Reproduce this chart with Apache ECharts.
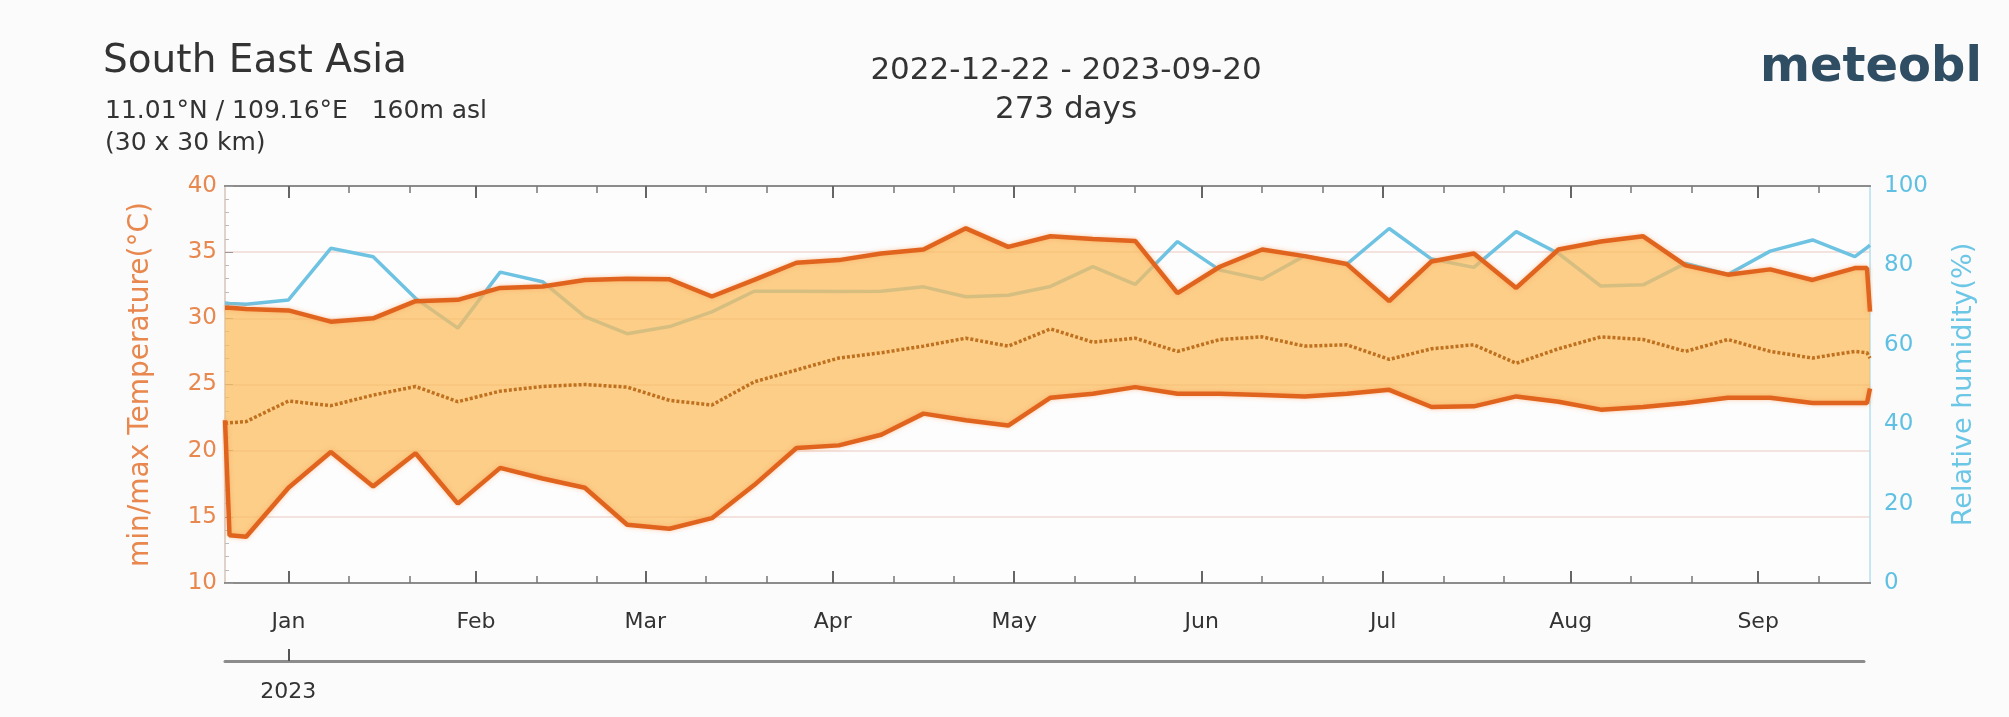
<!DOCTYPE html>
<html>
<head>
<meta charset="utf-8">
<script src="https://cdn.jsdelivr.net/npm/echarts@6/dist/echarts.min.js"></script>
<style>
html,body{margin:0;padding:0;background:#ffffff;}
#chart{width:2009px;height:717px;}
</style>
</head>
<body>
<div id="chart"></div>
<script>
// ---- data (weekly values; first/last two are edge points) ----
const dates = ['2022-12-21T12:00','2022-12-22T06:00','2022-12-25','2023-01-01','2023-01-08','2023-01-15','2023-01-22','2023-01-29',
  '2023-02-05','2023-02-12','2023-02-19','2023-02-26','2023-03-05','2023-03-12','2023-03-19','2023-03-26',
  '2023-04-02','2023-04-09','2023-04-16','2023-04-23','2023-04-30','2023-05-07','2023-05-14','2023-05-21','2023-05-28',
  '2023-06-04','2023-06-11','2023-06-18','2023-06-25','2023-07-02','2023-07-09','2023-07-16','2023-07-23','2023-07-30',
  '2023-08-06','2023-08-13','2023-08-20','2023-08-27','2023-09-03','2023-09-10','2023-09-17','2023-09-19T00:00','2023-09-19T12:00'];
const maxTemp = [30.8,30.8,30.7,30.6,29.75,30.0,31.3,31.4,32.3,32.4,32.9,33.0,32.95,31.65,32.9,34.2,34.4,34.9,35.2,36.8,35.4,36.2,36.0,35.85,31.9,33.9,35.2,34.7,34.1,31.3,34.3,34.9,32.3,35.2,35.8,36.2,34.0,33.3,33.7,32.9,33.8,33.8,30.5];
const meanTemp = [22.1,22.1,22.2,23.75,23.4,24.2,24.85,23.7,24.5,24.85,25.0,24.8,23.8,23.45,25.2,26.1,27.0,27.4,27.9,28.5,27.9,29.2,28.2,28.5,27.5,28.4,28.6,27.9,28.0,26.9,27.7,28.0,26.6,27.7,28.6,28.4,27.5,28.4,27.5,27.0,27.5,27.4,27.0];
const minTemp = [22.3,13.6,13.5,17.2,19.9,17.3,19.8,16.0,18.7,17.9,17.2,14.4,14.1,14.9,17.4,20.2,20.4,21.2,22.8,22.3,21.9,24.0,24.3,24.8,24.3,24.3,24.2,24.1,24.3,24.6,23.3,23.35,24.1,23.7,23.1,23.3,23.6,24.0,24.0,23.6,23.6,23.6,24.7];
const humidity = [70.5,70.4,70.2,71.3,84.3,82.2,71.7,64.2,78.3,75.9,67.1,62.8,64.6,68.3,73.5,73.5,73.4,73.5,74.6,72.1,72.5,74.7,79.7,75.2,86.0,78.8,76.5,82.4,80.3,89.3,81.6,79.5,88.5,83.0,74.8,75.1,80.5,77.7,83.6,86.4,82.2,84.5,85.1];

const axisStart = '2022-12-21T12:00';
const axisEnd = '2023-09-19T12:00';
const monthStarts = ['2023-01-01','2023-02-01','2023-03-01','2023-04-01','2023-05-01','2023-06-01','2023-07-01','2023-08-01','2023-09-01'];
const monthLabels = ['Jan','Feb','Mar','Apr','May','Jun','Jul','Aug','Sep'];
const minorTickDays = ['2023-01-11','2023-01-21','2023-02-11','2023-02-21','2023-03-11','2023-03-21','2023-04-11','2023-04-21',
  '2023-05-11','2023-05-21','2023-06-11','2023-06-21','2023-07-11','2023-07-21','2023-08-11','2023-08-21','2023-09-11'];
const yearTick = '2023-01-01';
const yearLabel = '2023';

// ---- build ----
function ts(s){ const p = s.split('T'); const d = p[0].split('-').map(Number); let h=0,m=0; if(p[1]){const t=p[1].split(':').map(Number);h=t[0];m=t[1];} return Date.UTC(d[0], d[1]-1, d[2], h, m); }
const X = dates.map(ts);
const xMin = ts(axisStart), xMax = ts(axisEnd);
const monthTs = monthStarts.map(ts);
const minorTs = minorTickDays.map(ts);
const yearTs = ts(yearTick);

const font = 'DejaVu Sans';
const chart = echarts.init(document.getElementById('chart'), null, {renderer:'canvas'});

function tAxis(extra){
  return Object.assign({type:'value', gridIndex:0, min:xMin, max:xMax, scale:true,
    axisLine:{show:true, onZero:false, lineStyle:{color:'#8c8c8c', width:2}},
    splitLine:{show:false}, axisLabel:{show:false}, axisTick:{show:false}}, extra);
}

const option = {
  backgroundColor:'#fbfbfb',
  animation:false,
  grid:[
    {left:225, right:139, top:186, height:397, show:true, backgroundColor:'#fdfdfd', borderWidth:0},
    {left:225, right:145, top:660, height:1, show:false}
  ],
  xAxis:[
    {type:'time', gridIndex:0, min:xMin, max:xMax, position:'bottom',
      axisLine:{show:true, onZero:false, lineStyle:{color:'#8c8c8c', width:2}},
      axisTick:{show:false}, axisLabel:{show:false}, splitLine:{show:false}},
    tAxis({position:'bottom',
      axisTick:{show:true, inside:true, length:12, lineStyle:{color:'#666', width:2}, customValues:monthTs},
      axisLabel:{show:true, margin:28, color:'#333', fontFamily:font, fontSize:22,
        customValues:monthTs, formatter:function(v){ const i = monthTs.indexOf(v); return i>=0?monthLabels[i]:''; }}}),
    tAxis({position:'bottom',
      axisTick:{show:true, inside:true, length:7, lineStyle:{color:'#777', width:1.5}, customValues:minorTs}}),
    tAxis({position:'top',
      axisTick:{show:true, inside:true, length:12, lineStyle:{color:'#666', width:2}, customValues:monthTs}}),
    tAxis({position:'top',
      axisTick:{show:true, inside:true, length:7, lineStyle:{color:'#777', width:1.5}, customValues:minorTs}}),
    {type:'value', gridIndex:1, min:xMin, max:xMax, scale:true, position:'bottom',
      axisLine:{show:true, onZero:false, lineStyle:{color:'#8c8c8c', width:3}},
      axisTick:{show:true, inside:true, length:12, lineStyle:{color:'#555', width:2}, customValues:[yearTs]},
      axisLabel:{show:true, margin:20, color:'#333', fontFamily:font, fontSize:22, customValues:[yearTs], formatter:function(){return yearLabel;}},
      splitLine:{show:false}}
  ],
  yAxis:[
    {type:'value', gridIndex:0, min:10, max:40, interval:5, position:'left',
      name:'min/max Temperature(°C)', nameLocation:'middle', nameGap:70, nameRotate:90,
      nameTextStyle:{color:'#e8874e', fontFamily:font, fontSize:28},
      axisLine:{show:true, lineStyle:{color:'#d8c4b8', width:1.5}},
      axisTick:{show:true, inside:true, length:8, lineStyle:{color:'#999'}},
      minorTick:{show:true, splitNumber:5, length:4, lineStyle:{color:'#bbb'}},
      axisLabel:{color:'#e8874e', fontFamily:font, fontSize:23, margin:8},
      splitLine:{show:true, lineStyle:{color:'#efd9d2', width:1.5}}},
    {type:'value', gridIndex:0, min:0, max:100, interval:20, position:'right',
      name:'Relative humidity(%)', nameLocation:'middle', nameGap:80, nameRotate:90,
      nameTextStyle:{color:'#6cc6e6', fontFamily:font, fontSize:27},
      axisLine:{show:true, lineStyle:{color:'#b4e0ee', width:1.5}},
      axisTick:{show:false},
      axisLabel:{color:'#5fc0e3', fontFamily:font, fontSize:23, margin:14},
      splitLine:{show:false}},
    {type:'value', gridIndex:1, show:false, min:0, max:1}
  ],
  series:[
    {name:'humidity', type:'line', xAxisIndex:0, yAxisIndex:1, z:2, symbol:'none', silent:true,
      data:X.map((x,i)=>[x, humidity[i]]),
      lineStyle:{color:'#6ec2e2', width:3.5}},
    {name:'base', type:'line', xAxisIndex:0, yAxisIndex:0, stack:'band', z:3, symbol:'none', silent:true,
      data:X.map((x,i)=>[x, minTemp[i]]), lineStyle:{width:0}},
    {name:'band', type:'line', xAxisIndex:0, yAxisIndex:0, stack:'band', z:3, symbol:'none', silent:true,
      data:X.map((x,i)=>[x, +(maxTemp[i]-minTemp[i]).toFixed(3)]), lineStyle:{width:0},
      areaStyle:{color:'#fbbd5e', opacity:0.74}},
    {name:'mean', type:'line', xAxisIndex:0, yAxisIndex:0, z:4, symbol:'none', silent:true,
      data:X.map((x,i)=>[x, meanTemp[i]]),
      lineStyle:{color:'#c0711f', width:3.5, type:[3,2]}},
    {name:'max', type:'line', xAxisIndex:0, yAxisIndex:0, z:5, symbol:'none', silent:true,
      data:X.map((x,i)=>[x, maxTemp[i]]),
      lineStyle:{color:'#e0641d', width:4.5, shadowColor:'rgba(250,150,80,0.5)', shadowBlur:4}},
    {name:'min', type:'line', xAxisIndex:0, yAxisIndex:0, z:5, symbol:'none', silent:true,
      data:X.map((x,i)=>[x, minTemp[i]]),
      lineStyle:{color:'#e0641d', width:4.5, shadowColor:'rgba(250,150,80,0.5)', shadowBlur:4}}
  ],
  graphic:[
    {type:'text', left:103, top:42, style:{text:'South East Asia', fill:'#333', font:'39px "DejaVu Sans"'}},
    {type:'text', left:105, top:99, style:{text:'11.01°N / 109.16°E   160m asl', fill:'#333', font:'25px "DejaVu Sans"'}},
    {type:'text', left:105, top:131, style:{text:'(30 x 30 km)', fill:'#333', font:'25px "DejaVu Sans"'}},
    {type:'text', x:1066, y:71, style:{text:'2022-12-22 - 2023-09-20', fill:'#333', font:'31px "DejaVu Sans"', align:'center', verticalAlign:'middle'}},
    {type:'text', x:1066, y:110, style:{text:'273 days', fill:'#333', font:'31px "DejaVu Sans"', align:'center', verticalAlign:'middle'}},
    {type:'text', left:1760, top:45, style:{text:'meteobl', fill:'#2f4d63', font:'bold 48px "DejaVu Sans"'}}
  ]
};
chart.setOption(option);
</script>
</body>
</html>
